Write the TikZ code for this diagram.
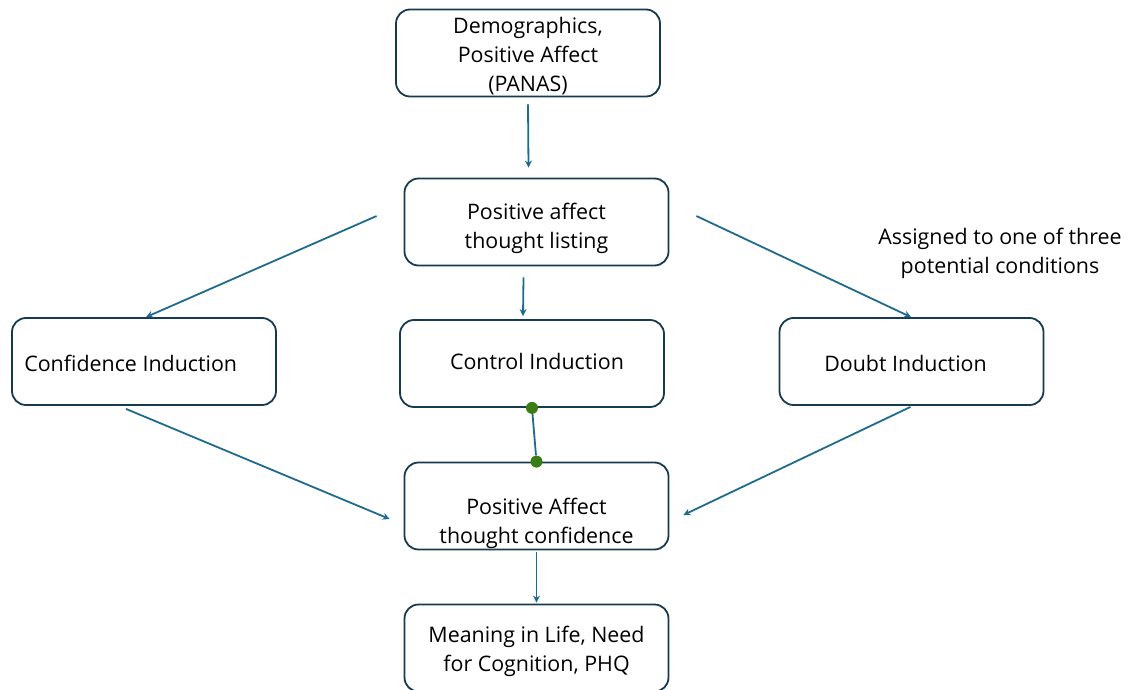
\documentclass[tikz,border=0pt]{standalone}
\usepackage{fontspec}
\setmainfont{Open Sans}
\usetikzlibrary{arrows.meta,calc}
\definecolor{boxline}{HTML}{173A50}
\definecolor{arrowc}{HTML}{1F6A8F}
\definecolor{dotc}{HTML}{3A7D14}
\begin{document}
\begin{tikzpicture}[x=1pt,y=-1pt,
  box/.style={draw=boxline,line width=1.8pt,rounded corners=14pt,fill=white,
    minimum width=264pt,minimum height=87pt,inner sep=0pt},
  txt/.style={align=center,font=\fontsize{21.4}{29}\selectfont,inner sep=0pt},
  conn/.style={draw=arrowc,line width=1.8pt,-{Stealth[length=7pt,width=7pt]}},
  dotline/.style={draw=arrowc,line width=1.8pt},
  gdot/.style={circle,fill=dotc,inner sep=0pt,minimum size=12pt}]
\useasboundingbox (0,0) rectangle (1130,690);
\clip (0,0) rectangle (1130,690);
\node[box] (b1) at (528,53) {};
\node[box] (b2) at (536.5,222) {};
\node[box] (b3) at (144,361.5) {};
\node[box] (b4) at (532,363.5) {};
\node[box] (b5) at (911.5,361.5) {};
\node[box] (b6) at (536.5,506) {};
\node[box] (b7) at (536.5,648) {};
\node[txt] (t1) at ([yshift=-3pt]b1.center) {Demographics,\\Positive Affect\\(PANAS)};
\node[txt] (t2) at ([yshift=-6pt]b2.center) {Positive affect\\thought listing};
\node[txt,anchor=west] (t3) at ([xshift=13pt,yshift=-2pt]b3.west) {Confidence Induction};
\node[txt] (t4) at ([xshift=5pt,yshift=2pt]b4.center) {Control Induction};
\node[txt] (t5) at ([xshift=-6pt,yshift=-2pt]b5.center) {Doubt Induction};
\node[txt] (t6) at ([yshift=-17pt]b6.center) {Positive Affect\\thought confidence};
\node[txt] (t7) at ([yshift=-3pt]b7.center) {Meaning in Life, Need\\for Cognition, PHQ};
\node[txt] (note) at (1000,253) {Assigned to one of three\\potential conditions};
\draw[conn] ($(b1.south)+(0,7)$) -- ($(b2.north)+(-8,-10)$);
\draw[conn] ($(b2.west)+(-27,-6)$) -- ($(b3.north)+(2,0)$);
\draw[conn] ($(b2.south)+(-13,11)$) -- ($(b4.north)+(-9,-3)$);
\draw[conn] ($(b2.east)+(27,-6)$) -- ($(b5.north)+(-0.5,0)$);
\draw[conn] ($(b3.south)+(-18,3)$) -- ($(b6.west)+(-14,13)$);
\draw[conn] ($(b5.south)+(-1,1)$) -- ($(b6.east)+(14,9)$);
\draw[conn] ($(b6.south)+(0,2)$) -- ($(b7.north)+(0,-1)$);
\node[gdot] (d1) at (b4.south) {};
\node[gdot] (d2) at (b6.north) {};
\draw[dotline] (d1) -- (d2);
\end{tikzpicture}
\end{document}
